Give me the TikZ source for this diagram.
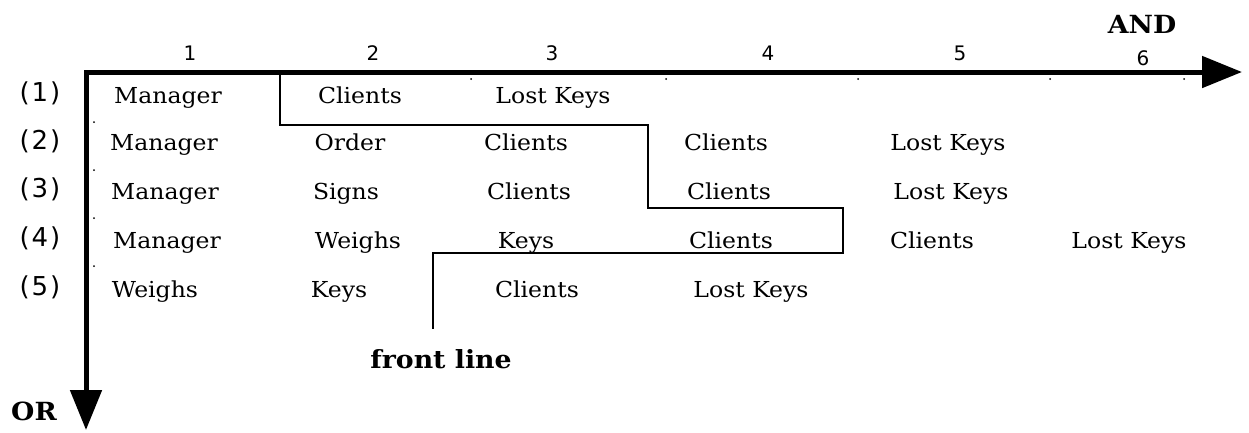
\documentclass[tikz,border=0pt]{standalone}
\usepackage{fontspec}
\setmainfont{DejaVu Serif}[FakeStretch=1.07]
\newfontfamily\numfont{DejaVu Sans}
\usetikzlibrary{arrows.meta}

\begin{document}
\begin{tikzpicture}[x=1pt,y=-1pt,
  axis/.style={line width=5pt, line cap=rect, -{Triangle[length=40pt,width=31pt]}},
  frontline/.style={line width=2pt},
  cell/.style={anchor=base, inner sep=0pt, font=\fontsize{22}{26}\selectfont},
  rowlab/.style={anchor=base, inner sep=0pt, font=\numfont\fontsize{26}{30}\selectfont},
  collab/.style={anchor=base, inner sep=0pt, font=\numfont\fontsize{20}{23}\selectfont},
  axlab/.style={anchor=base, inner sep=0pt, font=\bfseries\fontsize{25}{29}\selectfont},
  tick/.style={fill, circle, inner sep=0pt, minimum size=2pt}]
\useasboundingbox (0,0) rectangle (1249,432);

% axes
\coordinate (O) at (86,72);
\coordinate (E) at (1242,72);
\coordinate (S) at (86,430);
\draw[axis] (O) -- (E);
\draw[axis] (O) -- (S);

% small ticks along the axes
\foreach \x [count=\i] in {280,471,666,858,1050,1184}
  \node[tick] (h\i) at (\x,79) {};
\foreach \y [count=\i] in {122,170,218,266}
  \node[tick] (v\i) at (94,\y) {};

% axis labels
\node[axlab] (and) at (1142,33) {AND};
\node[axlab] (or) at (34,420) {OR};

% column numbers
\node[collab] (c1) at (190,60) {1};
\node[collab] (c2) at (373,60) {2};
\node[collab] (c3) at (552,60) {3};
\node[collab] (c4) at (768,60) {4};
\node[collab] (c5) at (960,60) {5};
\node[collab] (c6) at (1143,65) {6};

% row numbers
\newcommand{\rowno}[1]{(\kern2pt#1\kern2pt)}
\node[rowlab] (r1) at (40,101) {\rowno{1}};
\node[rowlab] (r2) at (40,149) {\rowno{2}};
\node[rowlab] (r3) at (40,197) {\rowno{3}};
\node[rowlab] (r4) at (40,246) {\rowno{4}};
\node[rowlab] (r5) at (40,295) {\rowno{5}};

% row 1
\node[cell] (a1) at (168,103) {Manager};
\node[cell] (a2) at (360,103) {Clients};
\node[cell] (a3) at (553,103) {Lost Keys};
% row 2
\node[cell] (b1) at (164,150) {Manager};
\node[cell] (b2) at (350,150) {Order};
\node[cell] (b3) at (526,150) {Clients};
\node[cell] (b4) at (726,150) {Clients};
\node[cell] (b5) at (948,150) {Lost Keys};
% row 3
\node[cell] (d1) at (165,199) {Manager};
\node[cell] (d2) at (346,199) {Signs};
\node[cell] (d3) at (529,199) {Clients};
\node[cell] (d4) at (729,199) {Clients};
\node[cell] (d5) at (951,199) {Lost Keys};
% row 4
\node[cell] (e1) at (167,248) {Manager};
\node[cell] (e2) at (358,248) {Weighs};
\node[cell] (e3) at (526,248) {Keys};
\node[cell] (e4) at (731,248) {Clients};
\node[cell] (e5) at (932,248) {Clients};
\begin{scope}
  \clip (1040,200) rectangle (1190,270);
  \node[cell] (e6) at (1129,248) {Lost Keys};
\end{scope}
% row 5
\node[cell] (g1) at (155,297) {Weighs};
\node[cell] (g2) at (339,297) {Keys};
\node[cell] (g3) at (537,297) {Clients};
\node[cell] (g4) at (751,297) {Lost Keys};

% front line
\coordinate (f0) at (280,72);
\coordinate (f1) at (280,125);
\coordinate (f2) at (648,125);
\coordinate (f3) at (648,208);
\coordinate (f4) at (843,208);
\coordinate (f5) at (843,253);
\coordinate (f6) at (433,253);
\coordinate (f7) at (433,329);
\draw[frontline] (f0) -- (f1) -- (f2) -- (f3) -- (f4) -- (f5) -- (f6) -- (f7);
\node[axlab] (fl) at (441,368) {front line};
\end{tikzpicture}
\end{document}
